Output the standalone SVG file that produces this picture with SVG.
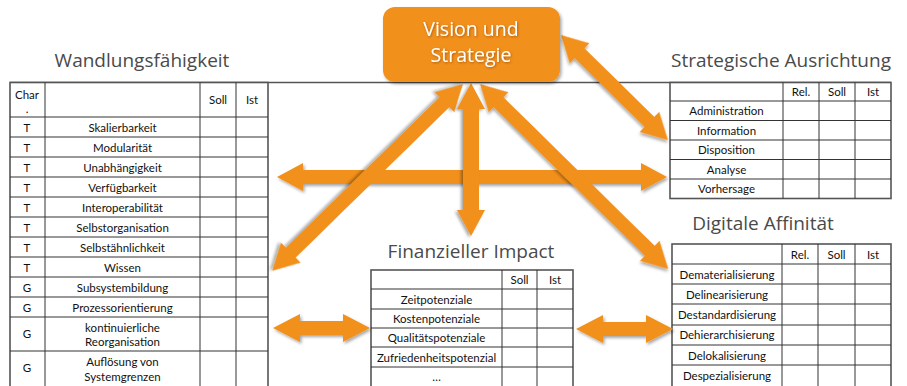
<svg xmlns="http://www.w3.org/2000/svg" width="907" height="386" viewBox="0 0 907 386">
<defs>
<style>
.title{font-family:"Open Sans","Noto Sans",sans-serif;font-size:19px;fill:#4a4a4a;text-anchor:middle}
.t{font-family:Lato,"Liberation Sans",sans-serif;font-size:11.5px;fill:#111;text-anchor:middle}
.grid{stroke:#333;stroke-width:1;fill:none}
.outer{stroke:#555;stroke-width:1.6;fill:#fff}
.arrow{fill:#F2901C;filter:url(#sh)}
.vs{font-family:"Open Sans","Noto Sans",sans-serif;font-size:19.5px;fill:#fff;text-anchor:middle;filter:url(#tsh)}
</style>
<filter id="sh" x="-20%" y="-20%" width="140%" height="140%">
<feDropShadow dx="1.5" dy="2" stdDeviation="1.8" flood-color="#000" flood-opacity="0.35"/>
</filter>
<filter id="tsh" x="-10%" y="-20%" width="120%" height="150%">
<feDropShadow dx="0.8" dy="1" stdDeviation="0.8" flood-color="#7a3c00" flood-opacity="0.6"/>
</filter>
</defs>
<rect width="907" height="386" fill="#fff"/>
<line x1="10" y1="82.5" x2="891" y2="82.5" stroke="#555" stroke-width="1.5"/>

<g id="wandlungsfaehigkeit">
<text class="title" x="142" y="67">Wandlungsfähigkeit</text>
<rect class="outer" x="10" y="82.5" width="258" height="310"/>
<g class="grid">
<line x1="45" y1="82.5" x2="45" y2="386"/>
<line x1="200" y1="82.5" x2="200" y2="386"/>
<line x1="236" y1="82.5" x2="236" y2="386"/>
<line x1="10" y1="117" x2="268" y2="117"/>
<line x1="10" y1="137" x2="268" y2="137"/>
<line x1="10" y1="157" x2="268" y2="157"/>
<line x1="10" y1="177" x2="268" y2="177"/>
<line x1="10" y1="197" x2="268" y2="197"/>
<line x1="10" y1="217" x2="268" y2="217"/>
<line x1="10" y1="237" x2="268" y2="237"/>
<line x1="10" y1="257" x2="268" y2="257"/>
<line x1="10" y1="277" x2="268" y2="277"/>
<line x1="10" y1="297" x2="268" y2="297"/>
<line x1="10" y1="317" x2="268" y2="317"/>
<line x1="10" y1="351" x2="268" y2="351"/>
</g>
<text class="t" x="27" y="99">Char</text>
<text class="t" x="27" y="113">.</text>
<text class="t" x="218" y="104">Soll</text>
<text class="t" x="252" y="104">Ist</text>
<text class="t" x="27" y="131.5">T</text><text class="t" x="122.5" y="131.5">Skalierbarkeit</text>
<text class="t" x="27" y="151.5">T</text><text class="t" x="122.5" y="151.5">Modularität</text>
<text class="t" x="27" y="171.5">T</text><text class="t" x="122.5" y="171.5">Unabhängigkeit</text>
<text class="t" x="27" y="191.5">T</text><text class="t" x="122.5" y="191.5">Verfügbarkeit</text>
<text class="t" x="27" y="211.5">T</text><text class="t" x="122.5" y="211.5">Interoperabilität</text>
<text class="t" x="27" y="231.5">T</text><text class="t" x="122.5" y="231.5">Selbstorganisation</text>
<text class="t" x="27" y="251.5">T</text><text class="t" x="122.5" y="251.5">Selbstähnlichkeit</text>
<text class="t" x="27" y="271.5">T</text><text class="t" x="122.5" y="271.5">Wissen</text>
<text class="t" x="27" y="291.5">G</text><text class="t" x="122.5" y="291.5">Subsystembildung</text>
<text class="t" x="27" y="311.5">G</text><text class="t" x="122.5" y="311.5">Prozessorientierung</text>
<text class="t" x="27" y="338">G</text><text class="t" x="122.5" y="332">kontinuierliche</text><text class="t" x="122.5" y="346">Reorganisation</text>
<text class="t" x="27" y="372">G</text><text class="t" x="122.5" y="366">Auflösung von</text><text class="t" x="122.5" y="381">Systemgrenzen</text>
</g>

<g id="strategische-ausrichtung">
<text class="title" x="781" y="67">Strategische Ausrichtung</text>
<rect class="outer" x="670" y="82.5" width="221" height="116"/>
<g class="grid">
<line x1="783" y1="82.5" x2="783" y2="198.5"/>
<line x1="819" y1="82.5" x2="819" y2="198.5"/>
<line x1="855" y1="82.5" x2="855" y2="198.5"/>
<line x1="670" y1="101" x2="891" y2="101"/>
<line x1="670" y1="120.5" x2="891" y2="120.5"/>
<line x1="670" y1="140" x2="891" y2="140"/>
<line x1="670" y1="159.5" x2="891" y2="159.5"/>
<line x1="670" y1="179" x2="891" y2="179"/>
</g>
<text class="t" x="801" y="96">Rel.</text>
<text class="t" x="837" y="96">Soll</text>
<text class="t" x="873" y="96">Ist</text>
<text class="t" x="726.5" y="115">Administration</text>
<text class="t" x="726.5" y="135">Information</text>
<text class="t" x="726.5" y="154">Disposition</text>
<text class="t" x="726.5" y="174">Analyse</text>
<text class="t" x="726.5" y="193">Vorhersage</text>
</g>

<g id="digitale-affinitaet">
<text class="title" x="763" y="230">Digitale Affinität</text>
<rect class="outer" x="672" y="244" width="219" height="150"/>
<g class="grid">
<line x1="782" y1="244" x2="782" y2="386"/>
<line x1="818" y1="244" x2="818" y2="386"/>
<line x1="855" y1="244" x2="855" y2="386"/>
<line x1="672" y1="264" x2="891" y2="264"/>
<line x1="672" y1="284" x2="891" y2="284"/>
<line x1="672" y1="304" x2="891" y2="304"/>
<line x1="672" y1="325" x2="891" y2="325"/>
<line x1="672" y1="345" x2="891" y2="345"/>
<line x1="672" y1="365" x2="891" y2="365"/>
</g>
<text class="t" x="800" y="259">Rel.</text>
<text class="t" x="836.5" y="259">Soll</text>
<text class="t" x="873" y="259">Ist</text>
<text class="t" x="727" y="279">Dematerialisierung</text>
<text class="t" x="727" y="299">Delinearisierung</text>
<text class="t" x="727" y="319">Destandardisierung</text>
<text class="t" x="727" y="339">Dehierarchisierung</text>
<text class="t" x="727" y="360">Delokalisierung</text>
<text class="t" x="727" y="380">Despezialisierung</text>
</g>

<g id="finanzieller-impact">
<text class="title" x="471" y="258">Finanzieller Impact</text>
<rect class="outer" x="371" y="270" width="202" height="124"/>
<g class="grid">
<line x1="502" y1="270" x2="502" y2="386"/>
<line x1="537" y1="270" x2="537" y2="386"/>
<line x1="371" y1="289" x2="573" y2="289"/>
<line x1="371" y1="309" x2="573" y2="309"/>
<line x1="371" y1="328" x2="573" y2="328"/>
<line x1="371" y1="347" x2="573" y2="347"/>
<line x1="371" y1="367" x2="573" y2="367"/>
</g>
<text class="t" x="519.5" y="284">Soll</text>
<text class="t" x="555" y="284">Ist</text>
<text class="t" x="436.5" y="304">Zeitpotenziale</text>
<text class="t" x="436.5" y="323">Kostenpotenziale</text>
<text class="t" x="436.5" y="342">Qualitätspotenziale</text>
<text class="t" x="436.5" y="362">Zufriedenheitspotenzial</text>
<text class="t" x="436.5" y="381">…</text>
</g>

<g id="connectors">
<path class="arrow" transform="translate(277,177)" d="M0,0 L26,-14 L26,-7 L364,-7 L364,-14 L390,0 L364,14 L364,7 L26,7 L26,14 Z"/>
<path class="arrow" transform="translate(463,84) rotate(135.6)" d="M0,0 L26,-14 L26,-7 L241,-7 L241,-14 L267,0 L241,14 L241,7 L26,7 L26,14 Z"/>
<path class="arrow" transform="translate(480,84) rotate(44.5)" d="M0,0 L26,-14 L26,-7 L238,-7 L238,-14 L264,0 L238,14 L238,7 L26,7 L26,14 Z"/>
<path class="arrow" transform="translate(471,83) rotate(90)" d="M0,0 L26,-14 L26,-8 L127,-8 L127,-14 L153,0 L127,14 L127,8 L26,8 L26,14 Z"/>
<path class="arrow" transform="translate(561,35) rotate(44.5)" d="M0,0 L26,-14 L26,-7 L124,-7 L124,-14 L150,0 L124,14 L124,7 L26,7 L26,14 Z"/>
<path class="arrow" transform="translate(273,328)" d="M0,0 L27,-14 L27,-7 L70,-7 L70,-14 L97,0 L70,14 L70,7 L27,7 L27,14 Z"/>
<path class="arrow" transform="translate(576,329)" d="M0,0 L27,-14 L27,-7 L70,-7 L70,-14 L97,0 L70,14 L70,7 L27,7 L27,14 Z"/>
</g>

<g id="vision-strategie">
<rect x="383" y="7" width="177" height="75" rx="12" fill="#F2901C" filter="url(#sh)"/>
<text class="vs" x="471" y="36">Vision und</text>
<text class="vs" x="471" y="62">Strategie</text>
</g>
</svg>
